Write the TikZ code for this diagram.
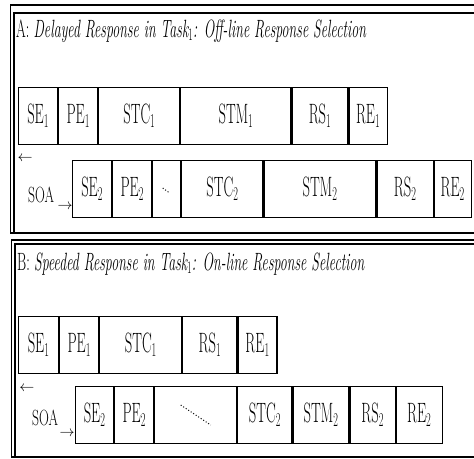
\RequirePackage{fix-cm}
\documentclass[tikz,border=0pt]{standalone}
\usepackage{fontspec}
\usepackage{graphicx}
\usetikzlibrary{positioning}

\newcommand{\narrow}[1]{\scalebox{0.56}[1]{#1}}
\newcommand{\tight}[1]{\scalebox{0.52}[1]{#1}}
\newcommand{\soatext}{\scalebox{0.62}[1]{SOA}}

\tikzset{
  phase/.style={draw, line width=1.1pt, inner sep=0pt, minimum height=57pt,
    font=\fontsize{28}{30}\selectfont},
  frame/.style={line width=1.1pt},
  heading/.style={anchor=base west, inner sep=0pt, font=\fontsize{25}{28}\selectfont},
  soa/.style={anchor=base west, inner sep=0pt, font=\fontsize{22}{24}\selectfont},
  tick/.style={inner sep=0pt, font=\fontsize{15}{15}\selectfont},
}

\begin{document}
\begin{tikzpicture}[x=1pt,y=-1pt]
  \useasboundingbox (0,0) rectangle (474,458);
  \clip (0,0) rectangle (474,458);

  % the two frames (double line on the left and on top)
  \draw[frame] (480,5) -- (10.5,5) -- (10.5,233) -- (480,233);
  \draw[frame] (480,13) -- (14,13) -- (14,233);
  \draw[frame] (480,240) -- (11.5,240) -- (11.5,457) -- (480,457);
  \draw[frame] (480,244) -- (15,244) -- (15,457);

  % A: off-line response selection
  \node[heading] (titleA) at (16,37) {\narrow{A: \textit{Delayed Response in Task$_1$: Off-line Response Selection}}};

  \node[phase, minimum width=39pt, anchor=north west] (seA) at (18,87) {\tight{SE$_1$}};
  \node[phase, minimum width=39pt, right=0pt of seA] (peA) {\tight{PE$_1$}};
  \node[phase, minimum width=81pt, right=0pt of peA] (stcA) {\tight{STC$_1$}};
  \node[phase, minimum width=110pt, right=0pt of stcA] (stmA) {\tight{STM$_1$}};
  \node[phase, minimum width=56pt, right=0pt of stmA] (rsA) {\tight{RS$_1$}};
  \node[phase, minimum width=38pt, right=0pt of rsA] (reA) {\tight{RE$_1$}};

  \node[phase, minimum width=39pt, anchor=north west] (seAA) at (72,160) {\tight{SE$_2$}};
  \node[phase, minimum width=39pt, right=0pt of seAA] (peAA) {\tight{PE$_2$}};
  \node[phase, minimum width=28pt, right=0pt of peAA] (gapAA) {};
  \node[phase, minimum width=81pt, right=0pt of gapAA] (stcAA) {\tight{STC$_2$}};
  \node[phase, minimum width=112pt, right=0pt of stcAA] (stmAA) {\tight{STM$_2$}};
  \node[phase, minimum width=56pt, right=0pt of stmAA] (rsAA) {\tight{RS$_2$}};
  \node[phase, minimum width=37pt, right=0pt of rsAA] (reAA) {\tight{RE$_2$}};
  \draw[dotted, line width=1pt] ([xshift=-4pt,yshift=1pt]gapAA.center) -- ([xshift=3pt,yshift=-4pt]gapAA.center);

  \node[soa] (soaA) at (28,202) {\soatext};
  \node[tick] (larrA) at (25,159) {$\leftarrow$};
  \node[tick] (rarrA) at (65,207) {$\rightarrow$};

  % B: on-line response selection
  \node[heading] (titleB) at (17,270) {\narrow{B: \textit{Speeded Response in Task$_1$: On-line Response Selection}}};

  \node[phase, minimum width=40pt, anchor=north west] (seB) at (18,316) {\tight{SE$_1$}};
  \node[phase, minimum width=39pt, right=0pt of seB] (peB) {\tight{PE$_1$}};
  \node[phase, minimum width=82pt, right=0pt of peB] (stcB) {\tight{STC$_1$}};
  \node[phase, minimum width=54pt, right=0pt of stcB] (rsB) {\tight{RS$_1$}};
  \node[phase, minimum width=39pt, right=0pt of rsB] (reB) {\tight{RE$_1$}};

  \node[phase, minimum width=38pt, anchor=north west] (seBB) at (75,386) {\tight{SE$_2$}};
  \node[phase, minimum width=39pt, right=0pt of seBB] (peBB) {\tight{PE$_2$}};
  \node[phase, minimum width=82pt, right=0pt of peBB] (gapBB) {};
  \node[phase, minimum width=54pt, right=0pt of gapBB] (stcBB) {\tight{STC$_2$}};
  \node[phase, minimum width=56pt, right=0pt of stcBB] (stmBB) {\tight{STM$_2$}};
  \node[phase, minimum width=45pt, right=0pt of stmBB] (rsBB) {\tight{RS$_2$}};
  \node[phase, minimum width=46pt, right=0pt of rsBB] (reBB) {\tight{RE$_2$}};
  \draw[dotted, line width=1pt] ([xshift=-15pt,yshift=10pt]gapBB.center) -- ([xshift=15pt,yshift=-10pt]gapBB.center);

  \node[soa] (soaB) at (32,425) {\soatext};
  \node[tick] (larrB) at (27,389) {$\leftarrow$};
  \node[tick] (rarrB) at (67,434) {$\rightarrow$};
\end{tikzpicture}
\end{document}
